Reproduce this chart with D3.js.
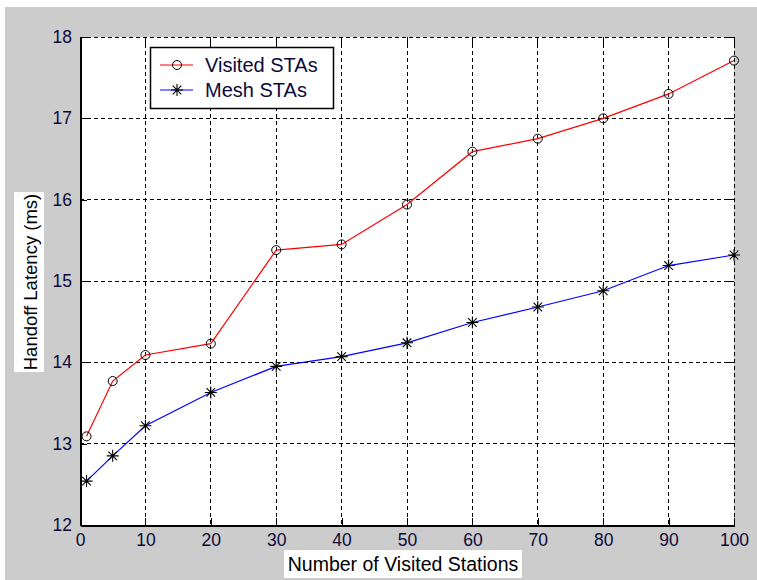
<!DOCTYPE html>
<html>
<head>
<meta charset="utf-8">
<script src="https://cdn.jsdelivr.net/npm/d3@7/dist/d3.min.js"></script>
<style>
  body { margin: 0; background: #fff; }
  svg text { font-family: Arial, "Liberation Sans", sans-serif; }
</style>
</head>
<body>
<div id="chart"></div>
<script>
var stations = [1, 5, 10, 20, 30, 40, 50, 60, 70, 80, 90, 100];
var visitedSTAs = [13.09, 13.77, 14.09, 14.23, 15.38, 15.45, 15.94, 16.59, 16.75, 17.0, 17.30, 17.71];
var meshSTAs = [12.54, 12.85, 13.22, 13.63, 13.95, 14.07, 14.24, 14.49, 14.68, 14.88, 15.19, 15.32];
var xTicks = [0, 10, 20, 30, 40, 50, 60, 70, 80, 90, 100];
var yTicks = [12, 13, 14, 15, 16, 17, 18];
var seriesNames = ['Visited STAs', 'Mesh STAs'];

(function() {
  var WIDTH = 757, HEIGHT = 580;
  var left = 80, right = 734, top = 37, bottom = 525;

  var svg = d3.select('#chart').append('svg')
    .attr('width', WIDTH)
    .attr('height', HEIGHT);

  // figure background
  svg.append('rect')
    .attr('x', 5).attr('y', 7)
    .attr('width', WIDTH - 5).attr('height', HEIGHT - 7)
    .attr('fill', '#cccccc');

  svg.append('rect')
    .attr('x', left).attr('y', top)
    .attr('width', right - left).attr('height', bottom - top)
    .attr('fill', '#fff');

  var x = d3.scaleLinear().domain([0, 100]).range([left, right]);
  var y = d3.scaleLinear().domain([12, 18]).range([bottom, top]);

  // grid
  var grid = svg.append('g')
    .attr('stroke', '#000')
    .attr('stroke-width', 1)
    .attr('stroke-dasharray', '4,3')
    .attr('shape-rendering', 'crispEdges');
  grid.selectAll('.gx').data(xTicks.slice(1)).enter().append('line')
    .attr('x1', function(d) { return x(d); })
    .attr('x2', function(d) { return x(d); })
    .attr('y1', top).attr('y2', bottom);
  grid.selectAll('.gy').data(yTicks.slice(1)).enter().append('line')
    .attr('y1', function(d) { return y(d); })
    .attr('y2', function(d) { return y(d); })
    .attr('x1', left).attr('x2', right);

  // axes
  var fmt = d3.format('d');
  var xAxis = svg.append('g')
    .attr('transform', 'translate(0,' + bottom + ')')
    .call(d3.axisBottom(x).tickValues(xTicks).tickFormat(fmt).tickSizeInner(-7).tickSizeOuter(0).tickPadding(9));
  var yAxis = svg.append('g')
    .attr('transform', 'translate(' + left + ',0)')
    .call(d3.axisLeft(y).tickValues(yTicks).tickFormat(fmt).tickSizeInner(-7).tickSizeOuter(0).tickPadding(8));
  [xAxis, yAxis].forEach(function(ax) {
    ax.select('.domain').attr('stroke', '#000').attr('stroke-width', 2).attr('shape-rendering', 'crispEdges');
    ax.selectAll('.tick line').attr('stroke', '#000').attr('shape-rendering', 'crispEdges');
    ax.selectAll('.tick text')
      .attr('fill', '#0d0a3a')
      .style('font-size', '17.5px')
      .style('font-family', 'Arial, "Liberation Sans", sans-serif');
  });

  // top and right inward ticks
  svg.append('g').selectAll('line').data(xTicks).enter().append('line')
    .attr('x1', function(d) { return x(d); })
    .attr('x2', function(d) { return x(d); })
    .attr('y1', top).attr('y2', top + 7)
    .attr('stroke', '#000').attr('shape-rendering', 'crispEdges');
  svg.append('g').selectAll('line').data(yTicks).enter().append('line')
    .attr('y1', function(d) { return y(d); })
    .attr('y2', function(d) { return y(d); })
    .attr('x1', right - 7).attr('x2', right)
    .attr('stroke', '#000').attr('shape-rendering', 'crispEdges');

  var line = d3.line()
    .x(function(d) { return x(d[0]); })
    .y(function(d) { return y(d[1]); });

  var visited = stations.map(function(s, i) { return [s, visitedSTAs[i]]; });
  var mesh = stations.map(function(s, i) { return [s, meshSTAs[i]]; });

  svg.append('path').datum(visited)
    .attr('d', line).attr('fill', 'none').attr('stroke', '#ff0000').attr('stroke-width', 1.2);
  svg.append('path').datum(mesh)
    .attr('d', line).attr('fill', 'none').attr('stroke', '#0000ff').attr('stroke-width', 1.2);

  function circle(g, cx, cy) {
    g.append('circle').attr('cx', cx).attr('cy', cy).attr('r', 4.5)
      .attr('fill', 'none').attr('stroke', '#000').attr('stroke-width', 1);
  }
  function star(g, cx, cy) {
    var r = 6, d = 4.3;
    var p = 'M' + (cx - r) + ',' + cy + 'L' + (cx + r) + ',' + cy +
      'M' + cx + ',' + (cy - r) + 'L' + cx + ',' + (cy + r) +
      'M' + (cx - d) + ',' + (cy - d) + 'L' + (cx + d) + ',' + (cy + d) +
      'M' + (cx - d) + ',' + (cy + d) + 'L' + (cx + d) + ',' + (cy - d);
    g.append('path').attr('d', p).attr('stroke', '#000').attr('stroke-width', 1.1).attr('fill', 'none');
  }

  var markers = svg.append('g');
  visited.forEach(function(d) { circle(markers, x(d[0]), y(d[1])); });
  mesh.forEach(function(d) { star(markers, x(d[0]), y(d[1])); });

  // legend
  var lg = svg.append('g');
  lg.append('rect')
    .attr('x', 150.5).attr('y', 47.5).attr('width', 183).attr('height', 61)
    .attr('fill', '#fff').attr('stroke', '#000').attr('stroke-width', 1.5);
  var rows = [{ c: '#ff0000', y: 65, m: circle }, { c: '#0000ff', y: 90, m: star }];
  rows.forEach(function(r, i) {
    lg.append('line').attr('x1', 160).attr('x2', 193).attr('y1', r.y).attr('y2', r.y)
      .attr('stroke', r.c).attr('stroke-width', 1.2);
    r.m(lg, 177, r.y);
    lg.append('text').attr('x', 205).attr('y', r.y + 7)
      .attr('fill', '#0d0a3a').style('font-size', '20px')
      .text(seriesNames[i]);
  });

  // axis labels
  svg.append('rect').attr('x', 284).attr('y', 550).attr('width', 238).attr('height', 28).attr('fill', '#fff');
  svg.append('text').attr('x', 403).attr('y', 571).attr('text-anchor', 'middle')
    .attr('fill', '#000').style('font-size', '19.5px')
    .text('Number of Visited Stations');

  svg.append('rect').attr('x', 14).attr('y', 192).attr('width', 30).attr('height', 180).attr('fill', '#fff');
  svg.append('text').attr('transform', 'translate(37,282) rotate(-90)').attr('text-anchor', 'middle')
    .attr('fill', '#000').style('font-size', '18.5px')
    .text('Handoff Latency (ms)');
})();
</script>
</body>
</html>
